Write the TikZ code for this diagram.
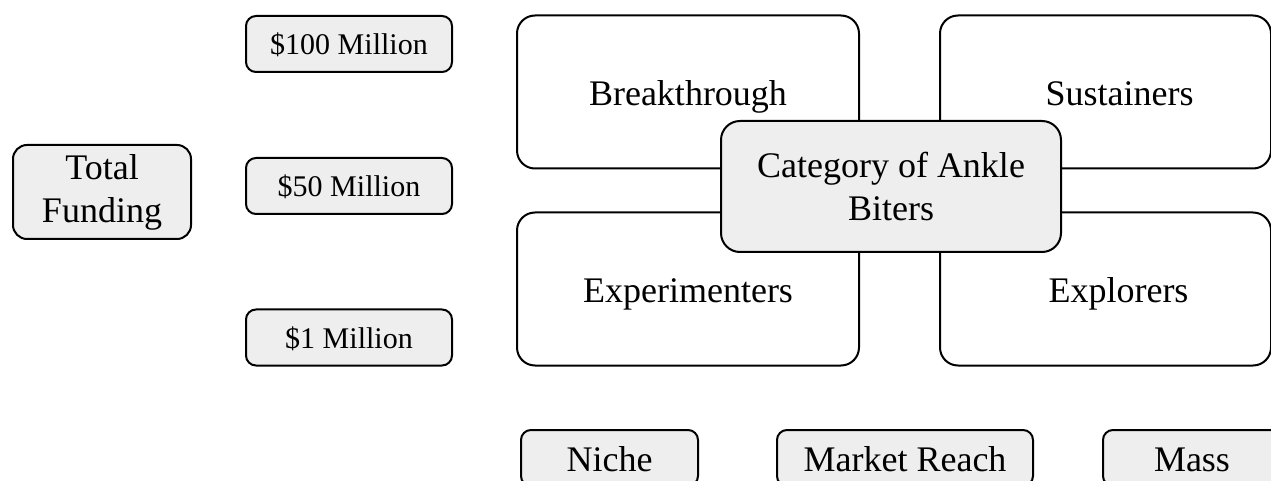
\documentclass[tikz,border=0pt]{standalone}
\usepackage{fontspec}
\setmainfont{Liberation Serif}

\begin{document}
\begin{tikzpicture}[x=0.5pt, y=-0.5pt, font=\fontsize{18}{21.5}\selectfont,
    fundbox/.style={draw=borderColour, fill=fillColour, line width=1pt, rounded corners=7pt, align=center},
    moneybox/.style={draw=borderColour, fill=fillColour, line width=1pt, rounded corners=5pt,
        minimum width=103pt, minimum height=28pt, text height=11pt, text depth=0pt,
        font=\fontsize{15}{18}\selectfont},
    quadbox/.style={draw=borderColour, fill=white, line width=1pt, rounded corners=9pt,
        minimum width=171pt, minimum height=76.5pt, text height=14pt, text depth=0pt},
    quadtext/.style={text height=14pt, text depth=0pt},
    reachbox/.style={draw=borderColour, fill=fillColour, line width=1pt, rounded corners=5pt,
        minimum width=88.5pt, minimum height=28pt, text height=13pt, text depth=0pt}]

    \definecolor{borderColour}{HTML}{000000}
    \definecolor{fillColour}{HTML}{EEEEEE}

    % Page size
    \clip (0,0) rectangle (1271,481);

    % Funding levels
    \node[fundbox, minimum width=89pt, minimum height=47pt] (total) at (102,192) {Total\\Funding};
    \node[moneybox] (hundred) at (349,44) {\$100 Million};
    \node[moneybox] (fifty) at (349,186) {\$50 Million};
    \node[moneybox] (one) at (349,337.5) {\$1 Million};

    % Draw the four quadrants
    \node[quadbox] (breakthrough) at (688,92) {Breakthrough};
    \node[quadbox, minimum width=165.5pt, label={[quadtext, xshift=7pt]center:Sustainers}] (sustainers) at (1105.5,92) {};
    \node[quadbox] (experimenters) at (688,289) {Experimenters};
    \node[quadbox, minimum width=165.5pt, label={[quadtext, xshift=6.5pt]center:Explorers}] (explorers) at (1105.5,289) {};

    % Draw the centre box on top
    \node[fundbox, rounded corners=9.5pt, minimum width=170pt, minimum height=65.5pt] (category) at (891,186.5) {Category of Ankle\\Biters};

    % Market reach
    \node[reachbox] (niche) at (609.5,458) {Niche};
    \node[reachbox, minimum width=128pt] (reach) at (905,458) {Market Reach};
    \node[reachbox, minimum width=89pt] (mass) at (1192,458) {Mass};

\end{tikzpicture}
\end{document}
